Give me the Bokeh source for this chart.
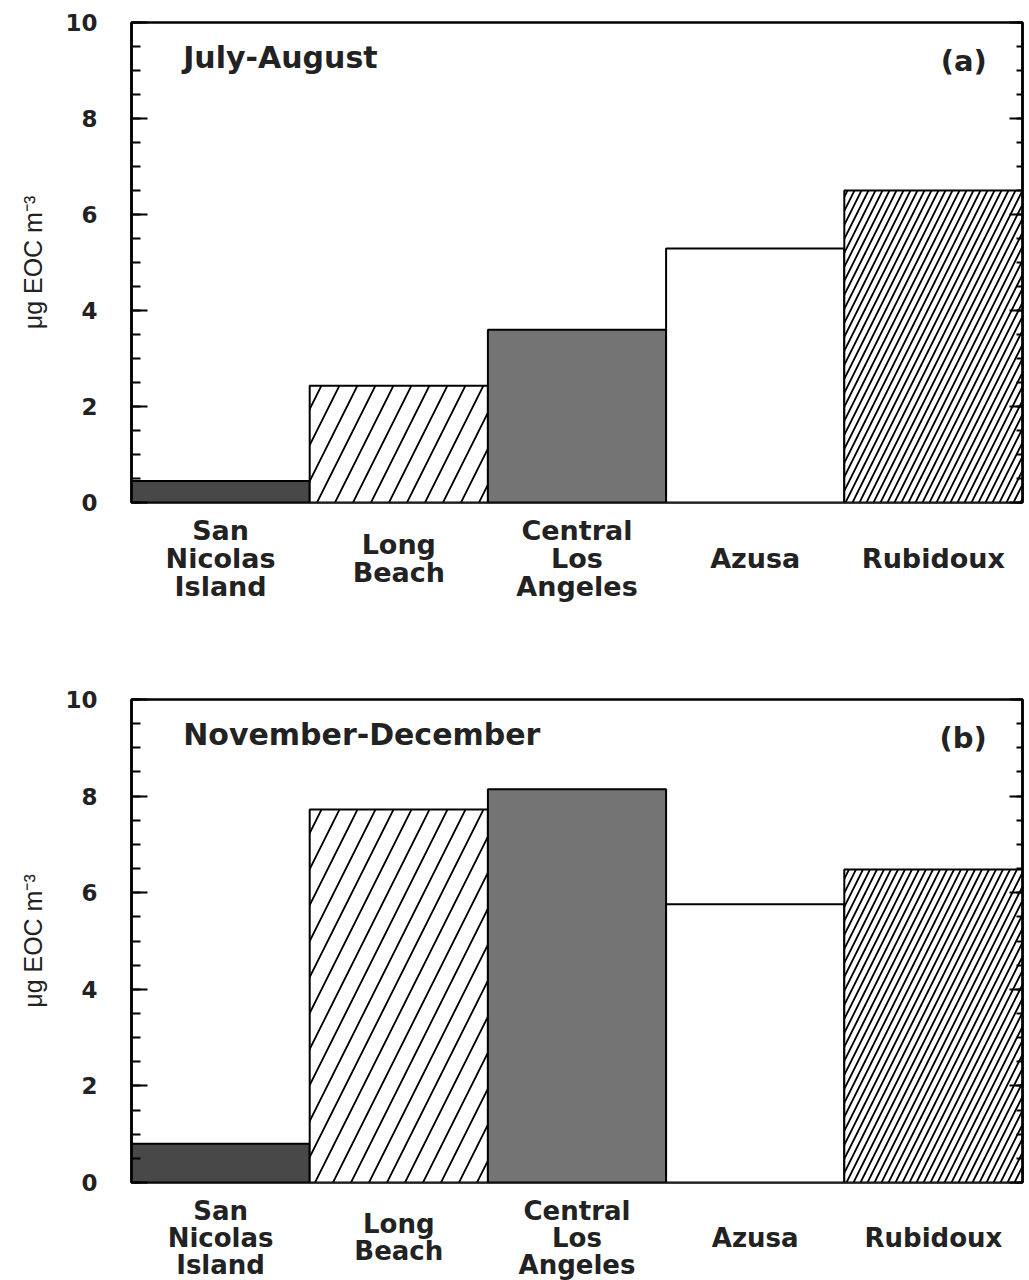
from bokeh.plotting import figure
from bokeh.models import (ColumnDataSource, FactorRange, Range1d, LinearAxis,
                          FixedTicker, Label)
from bokeh.core.properties import value
from bokeh.layouts import column
from bokeh.embed import file_html
from bokeh.resources import INLINE

# ---- data ----
sites = ["San\nNicolas\nIsland", "Long\nBeach", "Central\nLos\nAngeles", "Azusa", "Rubidoux"]
eoc_jul_aug = [0.45, 2.43, 3.60, 5.29, 6.50]
eoc_nov_dec = [0.80, 7.72, 8.14, 5.76, 6.48]
y_major = [0, 2, 4, 6, 8, 10]
y_minor = [i * 0.5 for i in range(21)]

# ---- styles ----
fill_colors = ["#484848", "white", "#747474", "white", "white"]
hatch_patterns = [" ", "/", " ", " ", "/"]
hatch_scales = [36, 36, 36, 36, 14]

BOLD_FONT = "DejaVu Sans"
LABEL_FONT = "Liberation Sans"
TXT = "#222222"
FRAME_W = 891
BOTTOM_GAP = 14


def make_panel(values, season, tag, border_top, frame_h):
    src = ColumnDataSource(dict(site=sites, value=values, fill=fill_colors,
                                hatch=hatch_patterns, hscale=hatch_scales))
    p = figure(x_range=FactorRange(factors=sites, range_padding=0),
               y_range=Range1d(0, 10),
               frame_width=FRAME_W, frame_height=frame_h,
               min_border_left=131, min_border_right=7,
               min_border_top=border_top, min_border_bottom=BOTTOM_GAP,
               output_backend="svg", toolbar_location=None,
               background_fill_color="white", border_fill_color="white")
    p.vbar(x="site", top="value", bottom=0, width=1.0, source=src,
           fill_color="fill", line_color="black", line_width=2,
           hatch_pattern="hatch", hatch_scale="hscale", hatch_color="black",
           hatch_weight=1.8)

    p.xgrid.visible = False
    p.ygrid.visible = False
    p.xaxis.visible = False
    p.outline_line_color = "black"
    p.outline_line_width = 2.5
    p.outline_line_alpha = 1

    ticker = FixedTicker(ticks=y_major, minor_ticks=y_minor)
    ya = p.yaxis[0]
    ya.ticker = ticker
    ya.axis_line_width = 2.5
    ya.major_tick_in = 16
    ya.major_tick_out = 0
    ya.minor_tick_in = 9
    ya.minor_tick_out = 0
    ya.major_tick_line_width = 2
    ya.minor_tick_line_width = 2
    ya.major_label_text_font = BOLD_FONT
    ya.major_label_text_font_style = "bold"
    ya.major_label_text_font_size = "23px"
    ya.major_label_text_color = TXT
    ya.major_label_standoff = 34
    ya.axis_label = "μg EOC m⁻³"
    ya.axis_label_text_font = LABEL_FONT
    ya.axis_label_text_font_style = "normal"
    ya.axis_label_text_font_size = "25px"
    ya.axis_label_text_color = TXT
    ya.axis_label_standoff = 15

    ra = LinearAxis(ticker=ticker)
    ra.axis_line_width = 2.5
    ra.major_tick_in = 13
    ra.major_tick_out = 0
    ra.minor_tick_in = 6
    ra.minor_tick_out = 0
    ra.major_tick_line_width = 2
    ra.minor_tick_line_width = 2
    ra.major_label_overrides = {t: "" for t in y_major}
    ra.major_label_standoff = 0
    p.add_layout(ra, "right")

    p.add_layout(Label(x=0.29, y=9.27, text=season, text_baseline="middle",
                       text_font=BOLD_FONT, text_font_style="bold",
                       text_font_size="30px", text_color=TXT))
    p.add_layout(Label(x=4.80, y=9.2, text=tag, text_baseline="middle",
                       text_align="right",
                       text_font=BOLD_FONT, text_font_style="bold",
                       text_font_size="29px", text_color=TXT))
    return p


def make_label_strip(x_range, strip_h, y_center, font_size):
    # category names, vertically centred under each bar (shares the bar x scale)
    s = figure(x_range=x_range, y_range=Range1d(0, 1),
               frame_width=FRAME_W, frame_height=strip_h,
               min_border_left=131, min_border_right=7 + 16,
               min_border_top=0, min_border_bottom=0,
               output_backend="svg", toolbar_location=None,
               background_fill_color="white", border_fill_color="white")
    s.text(x=sites, y=[y_center] * len(sites), text=sites,
           text_align="center", text_baseline="middle", text_line_height=0.9,
           text_font=value(BOLD_FONT), text_font_style="bold",
           text_font_size=font_size, text_color=TXT)
    s.xaxis.visible = False
    s.yaxis.visible = False
    s.xgrid.visible = False
    s.ygrid.visible = False
    s.outline_line_color = None
    return s


# panel (a): frame 22..502, strip to 640; panel (b): frame 699..1182, strip to 1280
p1 = make_panel(eoc_jul_aug, "July-August", "(a)", 22, 480)
s1 = make_label_strip(p1.x_range, 640 - 502 - BOTTOM_GAP,
                      (640 - 558) / (640 - 502 - BOTTOM_GAP), "27px")
p2 = make_panel(eoc_nov_dec, "November-December", "(b)", 59, 483)
s2 = make_label_strip(p2.x_range, 1280 - 1182 - BOTTOM_GAP,
                      (1280 - 1237) / (1280 - 1182 - BOTTOM_GAP), "26px")

layout = column(p1, s1, p2, s2)
open("out.html", "w").write(file_html(layout, INLINE))
